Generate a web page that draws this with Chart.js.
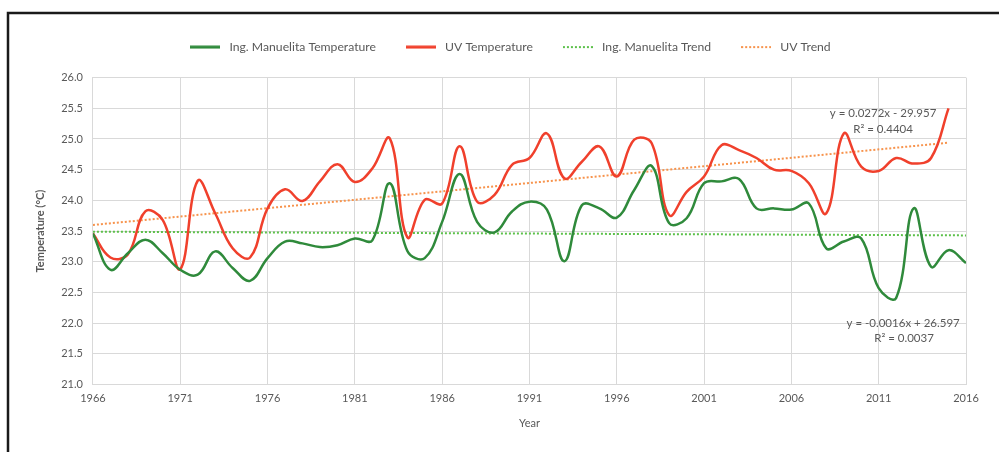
<!DOCTYPE html>
<html>
<head>
<meta charset="utf-8">
<script src="https://cdn.jsdelivr.net/npm/chart.js@4"></script>
<style>
  html, body { margin: 0; padding: 0; background: #ffffff; }
  #wrap { width: 999px; height: 452px; position: relative; }
</style>
</head>
<body>
<div id="wrap"><canvas id="c" width="999" height="452"></canvas></div>
<script>
const years = [1966,1967,1968,1969,1970,1971,1972,1973,1974,1975,1976,1977,1978,1979,1980,1981,1982,1983,1984,1985,1986,1987,1988,1989,1990,1991,1992,1993,1994,1995,1996,1997,1998,1999,2000,2001,2002,2003,2004,2005,2006,2007,2008,2009,2010,2011,2012,2013,2014,2015,2016];

const manuelitaTemp = [23.46,22.87,23.14,23.36,23.14,22.87,22.79,23.17,22.90,22.69,23.06,23.33,23.30,23.24,23.27,23.38,23.35,24.28,23.18,23.06,23.65,24.43,23.65,23.48,23.82,23.98,23.85,23.01,23.92,23.87,23.72,24.17,24.56,23.63,23.71,24.28,24.31,24.35,23.87,23.87,23.85,23.95,23.22,23.33,23.38,22.57,22.41,23.87,22.92,23.19,22.98];

const uvTemp = [23.46,23.07,23.12,23.82,23.68,22.88,24.32,23.79,23.22,23.07,23.87,24.18,23.99,24.31,24.59,24.30,24.52,25.01,23.40,24.01,23.95,24.88,23.98,24.09,24.58,24.69,25.09,24.36,24.63,24.88,24.39,24.99,24.93,23.76,24.14,24.39,24.90,24.82,24.69,24.50,24.48,24.28,23.79,25.09,24.55,24.48,24.69,24.60,24.69,25.50];

const manuelitaTrendYears = [1966, 2016];
const manuelitaTrendValues = [23.49, 23.43];
const uvTrendYears = [1966, 2015];
const uvTrendValues = [23.60, 24.94];

const yTicks = [21.0,21.5,22.0,22.5,23.0,23.5,24.0,24.5,25.0,25.5,26.0];
const xTickYears = [1966,1971,1976,1981,1986,1991,1996,2001,2006,2011,2016];

const seriesNames = ['Ing. Manuelita Temperature','UV Temperature','Ing. Manuelita Trend','UV Trend'];
const annotations = [
  { year: 2011.25, value: 25.42, text: 'y = 0.0272x - 29.957' },
  { year: 2011.25, value: 25.16, text: 'R² = 0.4404' },
  { year: 2012.4, value: 22.00, text: 'y = -0.0016x + 26.597' },
  { year: 2012.45, value: 21.75, text: 'R² = 0.0037' }
];

const pts = (xs, ys) => ys.map((v, i) => ({ x: xs[i], y: v }));

const FONT = 'Lato, "Open Sans", sans-serif';
const GRAY = '#595959';

function legendLine(color, dotted) {
  const c = document.createElement('canvas');
  c.width = 30; c.height = 4;
  const g = c.getContext('2d');
  g.strokeStyle = color;
  if (dotted) {
    g.lineWidth = 2;
    g.setLineDash([2, 2]);
  } else {
    g.lineWidth = 3;
  }
  g.beginPath();
  g.moveTo(0, 2);
  g.lineTo(30, 2);
  g.stroke();
  return c;
}

const framePlugin = {
  id: 'frame',
  beforeDraw(chart) {
    const ctx = chart.ctx;
    ctx.save();
    ctx.fillStyle = '#ffffff';
    ctx.fillRect(0, 0, chart.width, chart.height);
    ctx.strokeStyle = '#1a1a1a';
    ctx.lineWidth = 2.5;
    ctx.beginPath();
    ctx.moveTo(8, 452);
    ctx.lineTo(8, 13);
    ctx.lineTo(999, 13);
    ctx.stroke();
    ctx.restore();
  }
};

const legendShiftPlugin = {
  id: 'legendShift',
  afterLayout(chart) {
    if (chart.legend) {
      chart.legend.left += 11;
      chart.legend.right += 11;
    }
  }
};

const annotationPlugin = {
  id: 'trendText',
  afterDatasetsDraw(chart) {
    const ctx = chart.ctx;
    const xs = chart.scales.x, ys = chart.scales.y;
    ctx.save();
    ctx.font = '11.5px ' + FONT;
    ctx.fillStyle = GRAY;
    ctx.textAlign = 'center';
    ctx.textBaseline = 'middle';
    annotations.forEach(a => {
      ctx.fillText(a.text, xs.getPixelForValue(a.year), ys.getPixelForValue(a.value));
    });
    ctx.restore();
  }
};

const colors = ['#2f8a3b', '#f0402c', '#5cc04a', '#f7934c'];

new Chart(document.getElementById('c'), {
  type: 'line',
  data: {
    datasets: [
      { label: seriesNames[0], data: pts(years, manuelitaTemp), borderColor: colors[0], backgroundColor: colors[0], borderWidth: 2.5, tension: 0.4, pointRadius: 0, pointStyle: legendLine(colors[0], false), fill: false },
      { label: seriesNames[1], data: pts(years, uvTemp), borderColor: colors[1], backgroundColor: colors[1], borderWidth: 2.5, tension: 0.4, pointRadius: 0, pointStyle: legendLine(colors[1], false), fill: false },
      { label: seriesNames[2], data: pts(manuelitaTrendYears, manuelitaTrendValues), borderColor: colors[2], backgroundColor: colors[2], borderWidth: 2, borderDash: [2, 2], pointRadius: 0, pointStyle: legendLine(colors[2], true), fill: false },
      { label: seriesNames[3], data: pts(uvTrendYears, uvTrendValues), borderColor: colors[3], backgroundColor: colors[3], borderWidth: 2, borderDash: [2, 2], pointRadius: 0, pointStyle: legendLine(colors[3], true), fill: false }
    ]
  },
  options: {
    responsive: false,
    animation: false,
    devicePixelRatio: 1,
    layout: { padding: { left: 30, right: 33, top: 14, bottom: 18 } },
    plugins: {
      tooltip: { enabled: false },
      legend: {
        position: 'top',
        labels: {
          usePointStyle: true,
          pointStyleWidth: 36,
          boxHeight: 10,
          padding: 27,
          color: GRAY,
          font: { family: FONT, size: 12.2 }
        }
      },
      subtitle: {
        display: true,
        text: '',
        weight: 500,
        padding: 0,
        font: { family: FONT, size: 12 }
      }
    },
    scales: {
      x: {
        type: 'linear',
        min: 1966,
        max: 2016,
        afterBuildTicks(scale) { scale.ticks = xTickYears.map(v => ({ value: v })); },
        ticks: { color: GRAY, font: { family: FONT, size: 11 }, maxRotation: 0, autoSkip: false, padding: 7, callback: v => String(v) },
        grid: { color: '#d9d9d9', lineWidth: 1, drawTicks: false },
        border: { color: '#d9d9d9' },
        title: { display: true, text: 'Year', color: GRAY, font: { family: FONT, size: 11 }, padding: { top: 5 } }
      },
      y: {
        min: 21,
        max: 26,
        afterBuildTicks(scale) { scale.ticks = yTicks.map(v => ({ value: v })); },
        ticks: { color: GRAY, font: { family: FONT, size: 11 }, padding: 10, callback: v => Number(v).toFixed(1) },
        grid: { color: '#d9d9d9', lineWidth: 1, drawTicks: false },
        border: { color: '#d9d9d9' },
        title: { display: true, text: 'Temperature (°C)', color: GRAY, font: { family: FONT, size: 11, weight: 'bold' }, padding: { bottom: 4 } }
      }
    }
  },
  plugins: [framePlugin, legendShiftPlugin, annotationPlugin]
});
</script>
</body>
</html>
